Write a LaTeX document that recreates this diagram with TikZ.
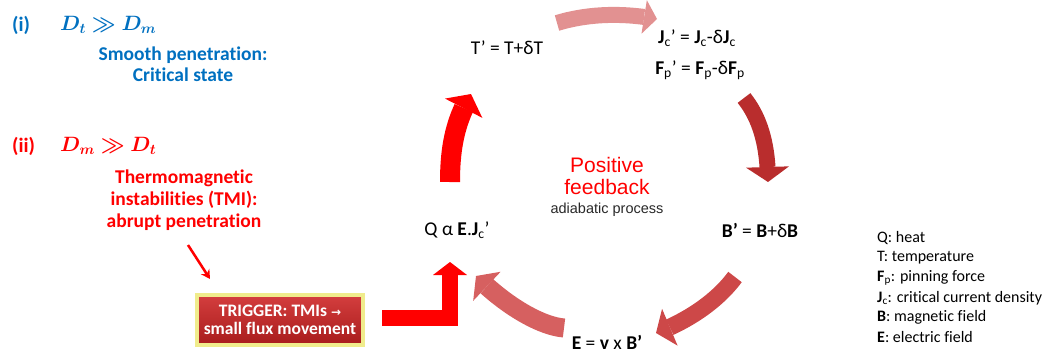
\documentclass[tikz,border=0pt]{standalone}
\usepackage{amsmath}
\usepackage{bm}
\usepackage{fontspec}
\setmainfont{Carlito}[Ligatures=NoCommon]
\newfontfamily\arialf{Liberation Sans}
\newfontfamily\dejavu{DejaVu Sans}
\usetikzlibrary{arrows.meta,bending}
\definecolor{oblue}{RGB}{0,112,192}
\definecolor{ored}{RGB}{255,0,0}
\definecolor{pinkA}{RGB}{226,145,145}
\definecolor{darkA}{RGB}{185,45,45}
\definecolor{midA}{RGB}{205,72,72}
\definecolor{salA}{RGB}{214,96,96}
\definecolor{trigtop}{RGB}{212,62,62}
\definecolor{trigbot}{RGB}{168,28,28}
\definecolor{glow}{RGB}{240,236,140}
\definecolor{graytxt}{RGB}{40,40,40}
\newcommand\mydtdm{\ensuremath{\bm{D_t} \bm{\gg} \bm{D_m}}}
\newcommand\mydmdt{\ensuremath{\bm{D_m} \bm{\gg} \bm{D_t}}}
\tikzset{
  eq/.style={inner sep=0pt, font=\fontsize{19.5}{22}\selectfont},
  lefttxt/.style={inner sep=0pt, font=\fontsize{19.5}{21}\selectfont\bfseries, align=center},
  legend/.style={inner sep=0pt, anchor=west, font=\fontsize{16}{18}\selectfont},
  cyc/.style={line width=17pt, -{Triangle[length=15pt,width=40pt,line width=0pt]}},
  trigbox/.style={minimum width=166pt, minimum height=50pt, inner sep=0pt,
    top color=trigtop, bottom color=trigbot, draw=glow, line width=3.5pt,
    text=white, align=center, font=\fontsize{17.5}{18}\selectfont\bfseries}
}
\begin{document}
\begin{tikzpicture}[x=1pt,y=-1pt]
\useasboundingbox (0,0) rectangle (1052,354);
% left texts
\node[inner sep=0pt, anchor=west, text=oblue, font=\fontsize{20.5}{22}\selectfont\bfseries] (ni) at (12,25) {(i)};
\node[inner sep=0pt, anchor=west, text=oblue, font=\fontsize{20.5}{22}\selectfont] (dt) at (60,25) {\mydtdm};
\node[lefttxt, text=oblue] (smooth) at (183,64) {Smooth penetration:\\Critical state};
\node[inner sep=0pt, anchor=west, text=ored, font=\fontsize{20.5}{22}\selectfont\bfseries] (nii) at (12,146) {(ii)};
\node[inner sep=0pt, anchor=west, text=ored, font=\fontsize{20.5}{22}\selectfont] (dm) at (60,146) {\mydmdt};
\node[lefttxt, text=ored, font=\fontsize{19.5}{22}\selectfont\bfseries] (tmi) at (184,200) {Thermomagnetic\\instabilities (TMI):\\abrupt penetration};
% trigger
\node[trigbox] (trig) at (280,320) {TRIGGER: TMIs {\dejavu\fontsize{12}{14}\selectfont →}\\small flux movement};
\coordinate (sa1) at (188,245);
\coordinate (sa2) at (210,279);
\draw[ored, line width=2.5pt, -{Stealth[length=9pt,width=10pt]}] (sa1) -- (sa2);
% L arrow
\coordinate (lb1) at (382,317.5);
\coordinate (lb2) at (450,317.5);
\coordinate (lb3) at (450,262);
\draw[ored, line width=16pt, -{Triangle[length=13pt,width=34pt,line width=0pt]}] (lb1) -- (lb2) -- (lb3);
% cycle arrows
\coordinate (la1) at (450,182);
\coordinate (la2) at (471,94);
\draw[cyc, ored, line width=20pt, -{Triangle[length=16pt,width=42pt,line width=0pt]}] (la1) .. controls (450,145) and (456,120) .. (la2);
\coordinate (ta1) at (557,23);
\coordinate (ta2) at (657,19);
\draw[cyc, pinkA, line width=16pt, -{Triangle[length=13pt,width=34pt,line width=0pt]}] (ta1) .. controls (590,13) and (625,13) .. (ta2);
\coordinate (ra1) at (744,98);
\coordinate (ra2) at (768,182);
\draw[cyc, darkA, line width=16pt, -{Triangle[length=15pt,width=43pt,line width=0pt]}] (ra1) .. controls (760,118) and (768,145) .. (ra2);
\coordinate (ba1) at (735,277);
\coordinate (ba2) at (656,333);
\draw[cyc, midA] (ba1) .. controls (718,300) and (690,320) .. (ba2);
\coordinate (bb1) at (564,328);
\coordinate (bb2) at (476,276);
\draw[cyc, salA, line width=19pt] (bb1) .. controls (540,326) and (505,305) .. (bb2);
% cycle labels
\node[eq] (T) at (507,48) {T’ = T+δT};
\node[eq] (Jc) at (697,38) {\textbf{J}\textsubscript{c}’ = \textbf{J}\textsubscript{c}-δ\textbf{J}\textsubscript{c}};
\node[eq] (Fp) at (700,70) {\textbf{F}\textsubscript{p}’ = \textbf{F}\textsubscript{p}-δ\textbf{F}\textsubscript{p}};
\node[eq] (B) at (760,230) {\textbf{B’} = \textbf{B}+δ\textbf{B}};
\node[eq] (E) at (607,342) {\textbf{E} = \textbf{v} x \textbf{B’}};
\node[eq] (Q) at (457,230) {Q α \textbf{E}.\textbf{J}\textsubscript{c}’};
\node[inner sep=0pt, align=center, text=ored, font=\arialf\fontsize{21}{22}\selectfont] (pos) at (607,176) {Positive\\feedback};
\node[inner sep=0pt, text=graytxt, font=\arialf\fontsize{14.5}{16}\selectfont] (adia) at (607,210) {adiabatic process};
% legend
\node[legend] (l1) at (877,238) {Q: heat};
\node[legend] (l2) at (877,258) {T: temperature};
\node[legend] (l3) at (877,278) {\textbf{F}\textsubscript{p}: pinning force};
\node[legend] (l4) at (877,298) {\textbf{J}\textsubscript{c}: critical current density};
\node[legend] (l5) at (877,317) {\textbf{B}: magnetic field};
\node[legend] (l6) at (877,337) {\textbf{E}: electric field};
\end{tikzpicture}
\end{document}
